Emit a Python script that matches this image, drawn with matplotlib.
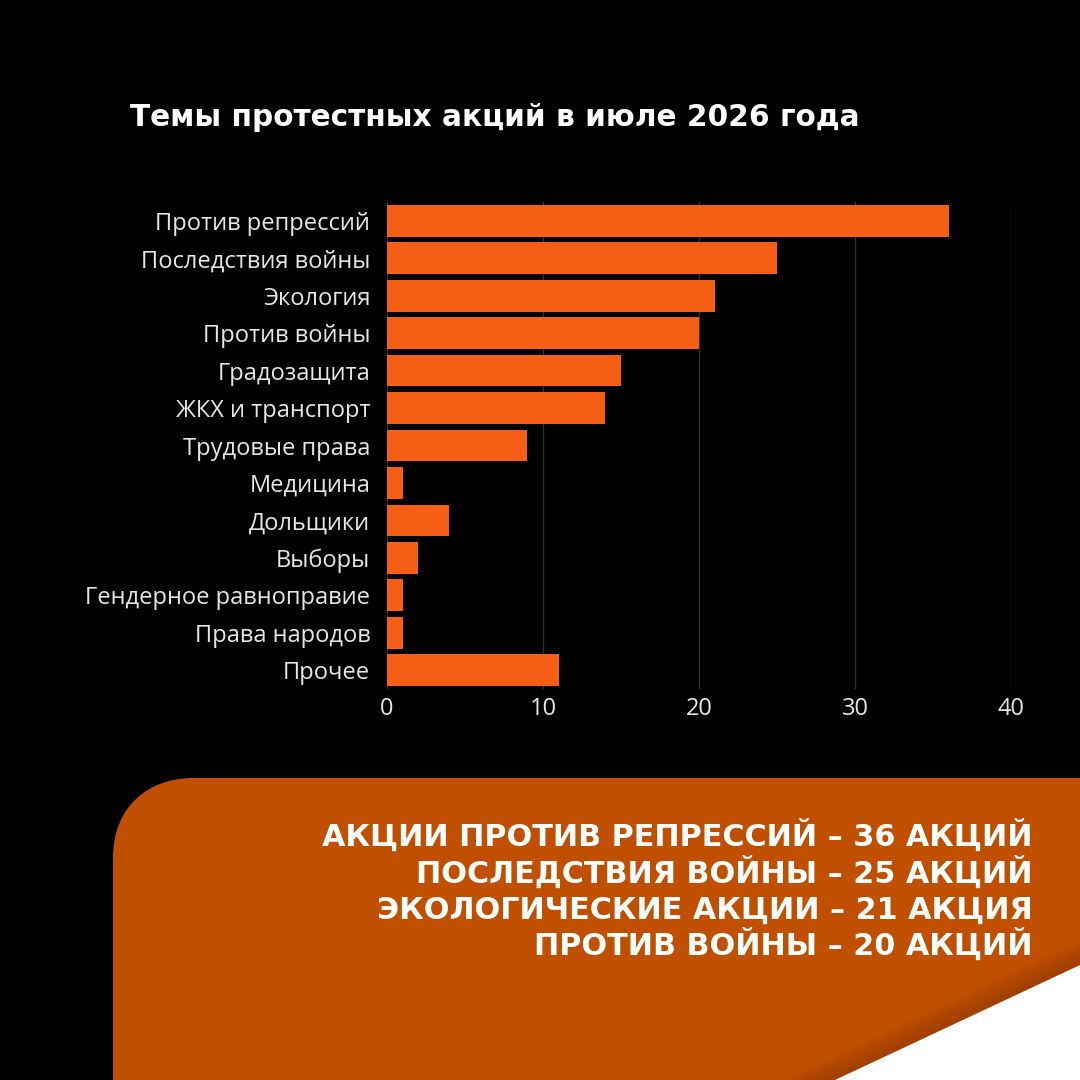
import matplotlib
matplotlib.use('Agg')
import matplotlib.pyplot as plt
from matplotlib.path import Path
from matplotlib.patches import PathPatch, Polygon

# data
topics = [
    'Против репрессий', 'Последствия войны', 'Экология', 'Против войны',
    'Градозащита', 'ЖКХ и транспорт', 'Трудовые права', 'Медицина',
    'Дольщики', 'Выборы', 'Гендерное равноправие', 'Права народов', 'Прочее',
]
counts = [36, 25, 21, 20, 15, 14, 9, 1, 4, 2, 1, 1, 11]
x_ticks = [0, 10, 20, 30, 40]

title = 'Темы протестных акций в июле 2026 года'
summary_lines = [
    'АКЦИИ ПРОТИВ РЕПРЕССИЙ – 36 АКЦИЙ',
    'ПОСЛЕДСТВИЯ ВОЙНЫ – 25 АКЦИЙ',
    'ЭКОЛОГИЧЕСКИЕ АКЦИИ – 21 АКЦИЯ',
    'ПРОТИВ ВОЙНЫ – 20 АКЦИЙ',
]

BAR_COLOR = '#f65e16'
PANEL_COLOR = '#c04f00'
FONT = ['Open Sans', 'DejaVu Sans']

W = H = 1080
fig = plt.figure(figsize=(W / 100, H / 100), dpi=100, facecolor='black')

# full-figure canvas in pixel coords for decorations
bg = fig.add_axes([0, 0, 1, 1])
bg.set_xlim(0, W)
bg.set_ylim(H, 0)
bg.axis('off')
bg.set_facecolor('black')

# bottom panel with rounded top-left corner
top, left, r = 778, 113, 80
verts = [
    (left, H), (left, top + r),
    (left, top + r * 0.35), (left + r * 0.45, top), (left + r, top),
    (W, top), (W, H), (left, H),
]
codes = [Path.MOVETO, Path.LINETO, Path.CURVE4, Path.CURVE4, Path.CURVE4,
         Path.LINETO, Path.LINETO, Path.CLOSEPOLY]
bg.add_patch(PathPatch(Path(verts, codes), facecolor=PANEL_COLOR, edgecolor='none'))

# soft shadow + white corner
for k in range(4):
    d = 12 * (4 - k)
    bg.add_patch(Polygon([(W, 965 - d * 0.47), (W, H), (835 - d, H)], closed=True,
                         facecolor='#7a2e00', edgecolor='none', alpha=0.12))
bg.add_patch(Polygon([(W, 965), (W, H), (835, H)], closed=True,
                     facecolor='white', edgecolor='none'))

bg.text(130, 117, title, color='white', fontsize=21.3, fontweight='bold',
        family='DejaVu Sans', va='center', ha='left')

for i, line in enumerate(summary_lines):
    bg.text(1033, 846 + i * 36.3, line, color='white', fontsize=21.8,
            fontweight='bold', family='DejaVu Sans', va='baseline', ha='right')

# bar chart
ax = fig.add_axes([387 / W, 1 - 689 / H, 624 / W, 487 / H])
ax.set_facecolor('none')
ax.barh(range(len(topics)), counts, height=0.85, color=BAR_COLOR, zorder=3)
ax.set_ylim(len(topics) - 0.5, -0.5)
ax.set_xlim(0, 40)
ax.set_xticks(x_ticks)
ax.set_yticks(range(len(topics)))
ax.set_yticklabels(topics)
ax.grid(axis='x', color='#333333', linewidth=1, zorder=0)
ax.tick_params(length=0, labelsize=17)
ax.tick_params(axis='y', pad=12)
ax.tick_params(axis='x', pad=6)
for lbl in ax.get_xticklabels() + ax.get_yticklabels():
    lbl.set_family(FONT)
    lbl.set_color('#e6e6e6')
for s in ax.spines.values():
    s.set_visible(False)

fig.savefig('out.png', dpi=100, facecolor='black')
